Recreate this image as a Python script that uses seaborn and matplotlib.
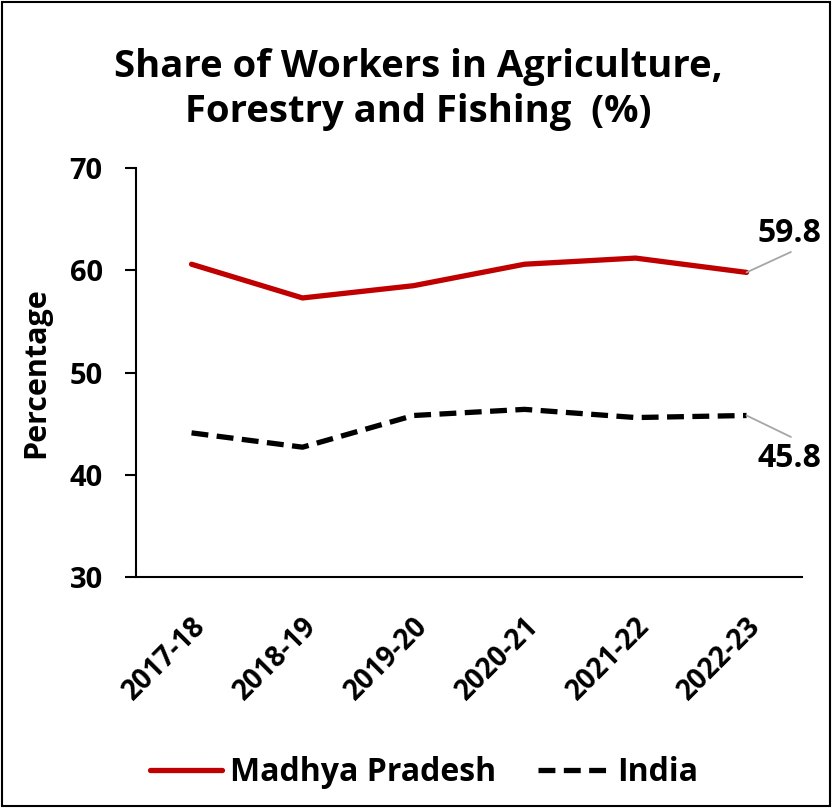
import matplotlib
matplotlib.use("Agg")
import matplotlib.pyplot as plt
import seaborn as sns
import pandas as pd
from matplotlib.lines import Line2D
from matplotlib.patches import Rectangle

years = ["2017-18", "2018-19", "2019-20", "2020-21", "2021-22", "2022-23"]
mp_values = [60.6, 57.3, 58.5, 60.6, 61.2, 59.8]
india_values = [44.1, 42.7, 45.8, 46.4, 45.6, 45.8]
series_names = ["Madhya Pradesh", "India"]
y_ticks = [30, 40, 50, 60, 70]

df = pd.DataFrame({
    "year": years * 2,
    "value": mp_values + india_values,
    "series": [series_names[0]] * len(years) + [series_names[1]] * len(years),
})

sns.set_theme(style="white")
plt.rcParams["font.family"] = ["Open Sans", "DejaVu Sans"]
plt.rcParams["font.weight"] = "bold"
for k in ["text.color", "axes.labelcolor", "xtick.color", "ytick.color"]:
    plt.rcParams[k] = "black"

fig = plt.figure(figsize=(8.32, 8.08), dpi=100)
ax = fig.add_axes([0.1635, 0.2859, 0.8005, 0.506])

red = "#C00000"
palette = {series_names[0]: red, series_names[1]: "black"}
dashes = {series_names[0]: "", series_names[1]: (3.2, 1.6)}
sns.lineplot(data=df, x="year", y="value", hue="series", style="series",
             palette=palette, dashes=dashes, linewidth=3.8, ax=ax, legend=False,
             sort=False)

ax.set_xlim(-0.5, len(years) - 0.5)
ax.set_ylim(30, 70)
ax.set_yticks(y_ticks)
ax.set_yticklabels([str(t) for t in y_ticks], fontsize=21, fontweight="bold")
ax.set_xticks(range(len(years)))
ax.set_xticklabels(years, rotation=45, ha="right", rotation_mode="anchor",
                   fontsize=20, fontweight="bold")
ax.set_xticks([i - 0.5 for i in range(len(years) + 1)], minor=True)
ax.tick_params(axis="x", which="major", length=0, pad=25)
ax.tick_params(axis="x", which="minor", length=8, width=1.5, color="black", direction="out")
ax.tick_params(axis="y", length=8, width=1.5, color="black", direction="out", pad=16, left=True)
ax.set_xlabel("")
ax.set_ylabel("Percentage", fontsize=22, fontweight="bold", labelpad=13)
for s in ["top", "right"]:
    ax.spines[s].set_visible(False)
for s in ["left", "bottom"]:
    ax.spines[s].set_color("black")
    ax.spines[s].set_linewidth(1.5)
ax.grid(False)

# end labels with grey leader lines
last = len(years) - 1
leader = "#A6A6A6"
for val, dy_line, dy_text in [(mp_values[-1], 2.0, 3.8), (india_values[-1], -2.1, -4.2)]:
    ax.annotate("", xy=(last, val), xytext=(last + 0.4, val + dy_line),
                arrowprops=dict(arrowstyle="-", color=leader, lw=1.3, shrinkA=0, shrinkB=0),
                annotation_clip=False)
    ax.text(last + 0.39, val + dy_text, f"{val:.1f}", fontsize=23, fontweight="bold",
            ha="center", va="center", clip_on=False)

fig.text(0.503, 0.889, "Share of Workers in Agriculture,\nForestry and Fishing  (%)",
         ha="center", va="center", fontsize=27.5, fontweight="bold", linespacing=1.25)

handles = [Line2D([0], [0], color=red, lw=3.8),
           Line2D([0], [0], color="black", lw=3.8, dashes=(3.2, 1.6))]
fig.legend(handles, series_names, loc="center", bbox_to_anchor=(0.51, 0.044), ncol=2,
           frameon=False, prop={"size": 23, "weight": "bold"}, handlelength=2.25,
           columnspacing=1.3, handletextpad=0.25)

fig.add_artist(Rectangle((0.003, 0.003), 0.994, 0.994, transform=fig.transFigure,
                         fill=False, edgecolor="black", linewidth=1.5))

fig.savefig("out.png", dpi=100)
